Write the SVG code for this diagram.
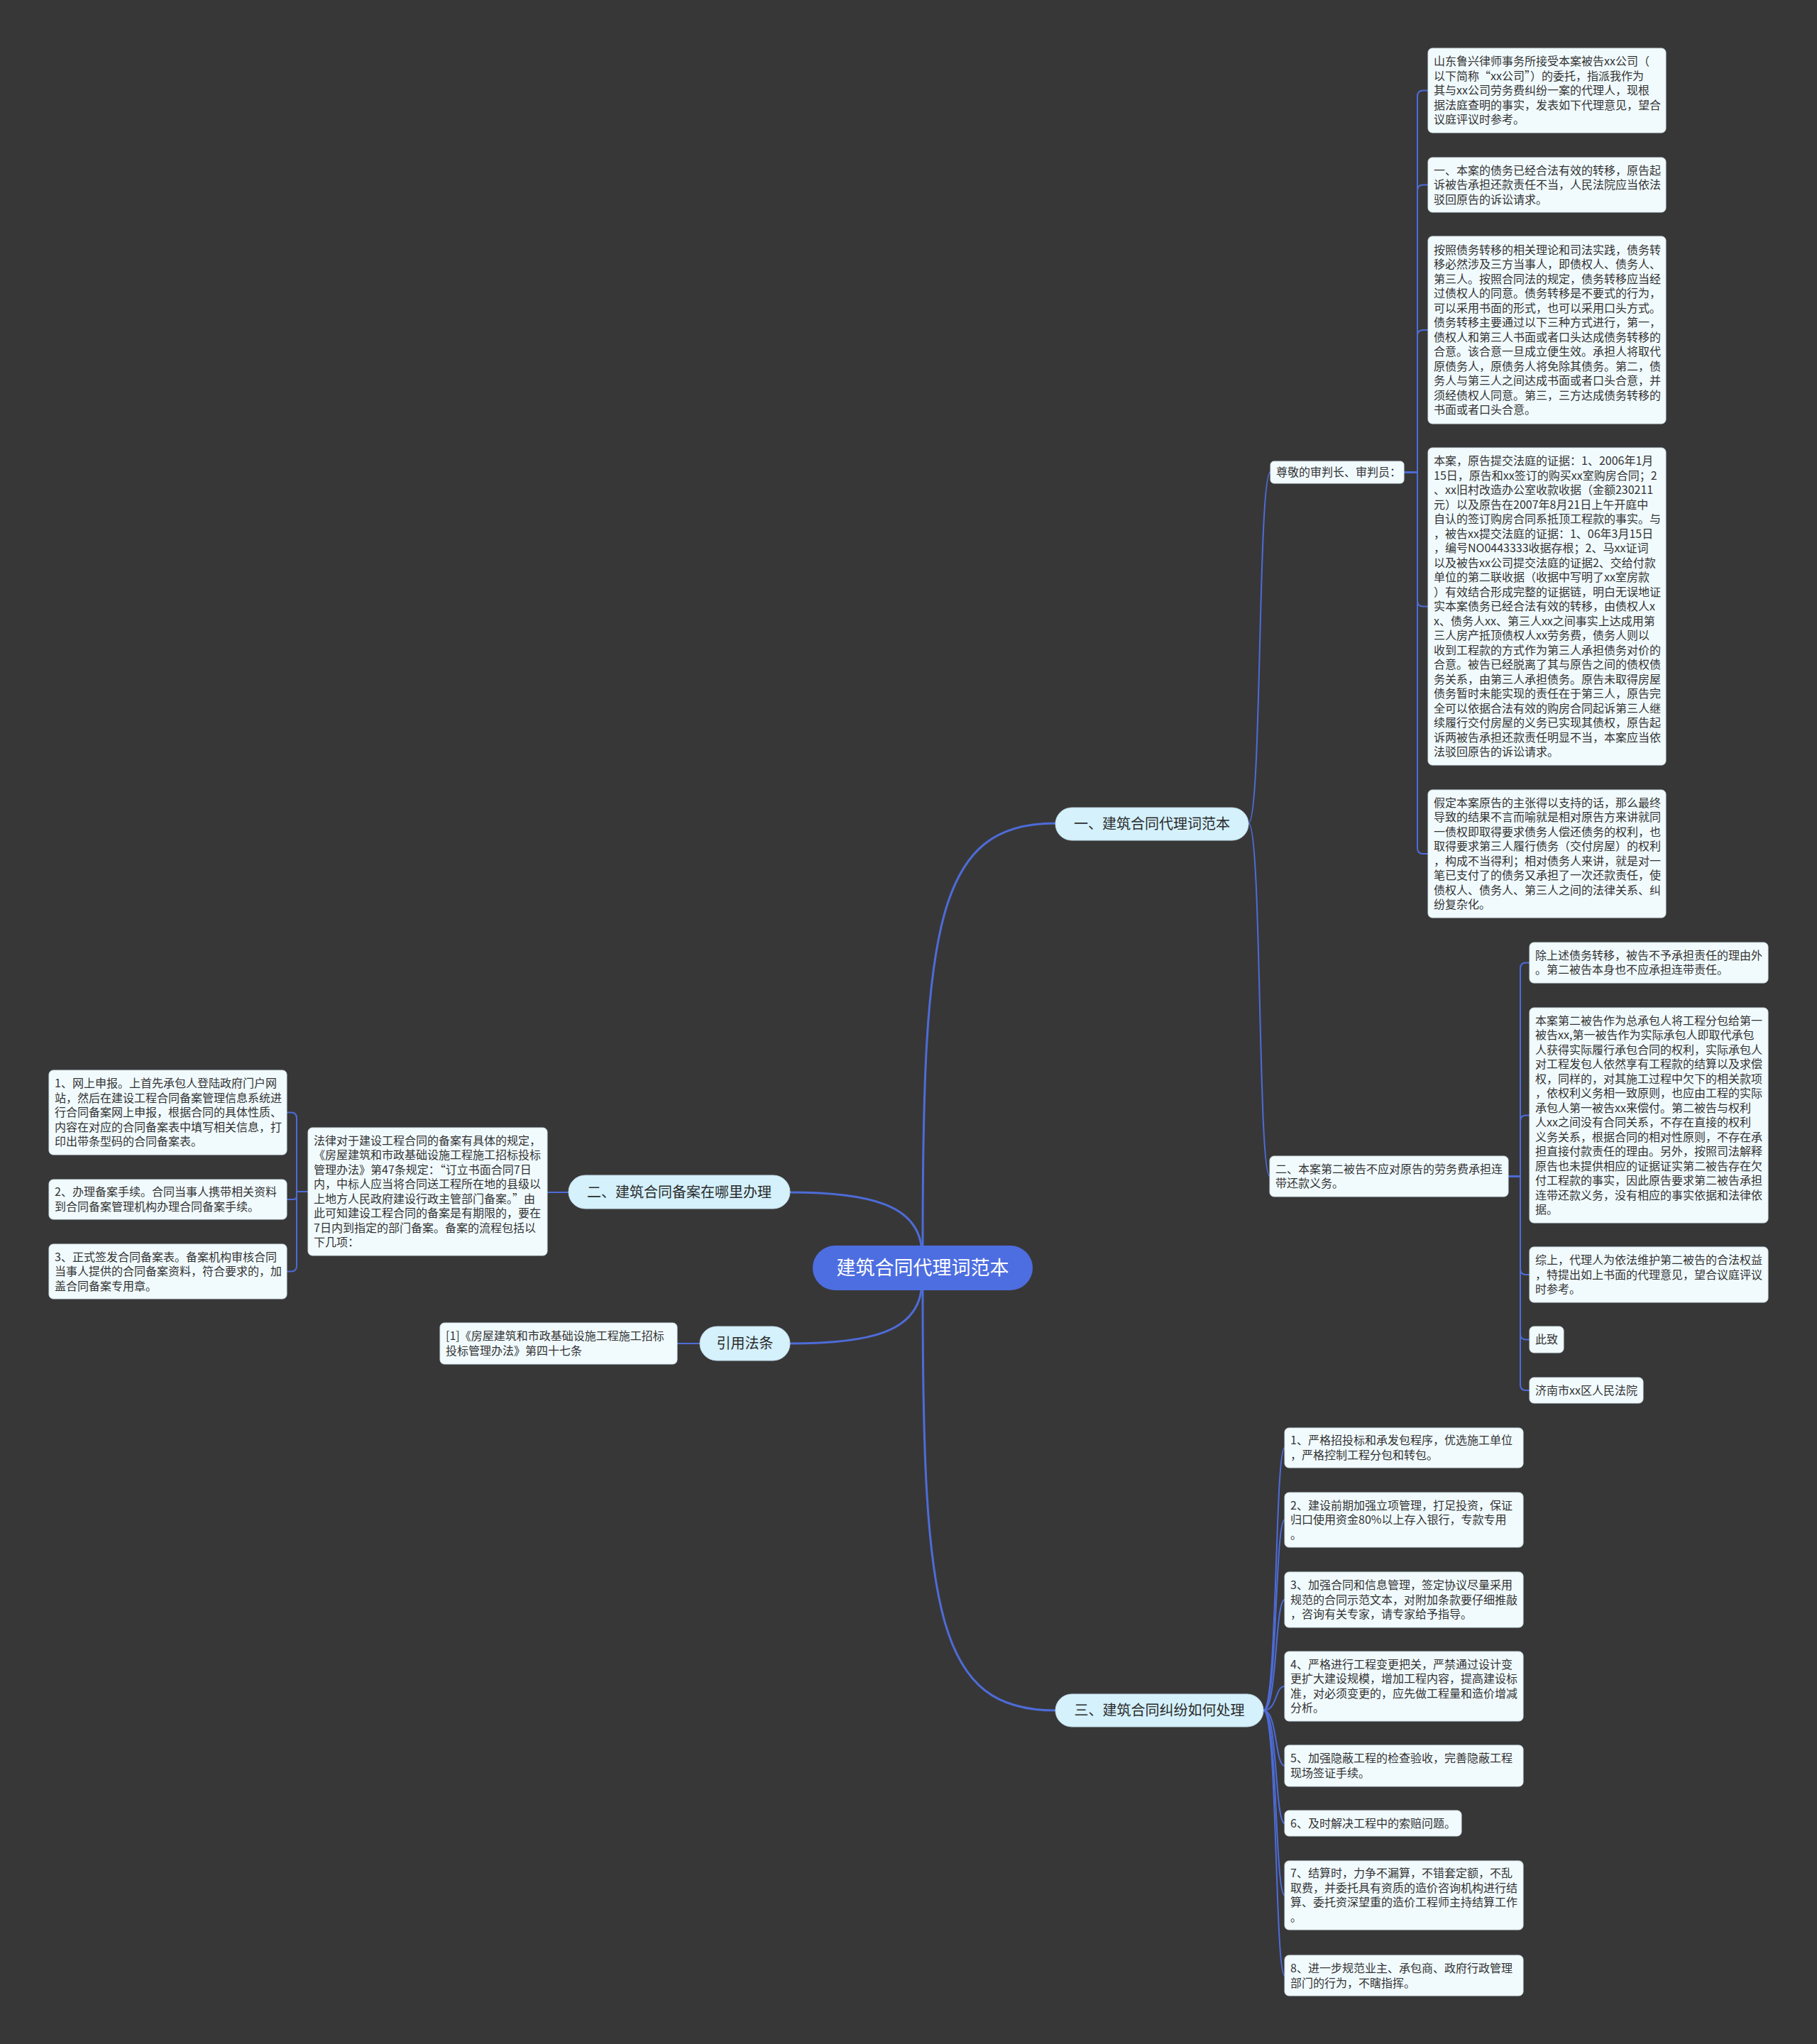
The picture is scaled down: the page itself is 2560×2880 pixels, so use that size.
<svg xmlns="http://www.w3.org/2000/svg" width="2560" height="2880" viewBox="0 0 2560 2880">
<style>
.bg{fill:#383738}
.leaf{fill:#f1fbfe;stroke:#d5e4ea;stroke-width:1}
.l2{fill:#d4f1fc;stroke:#c0dbe6;stroke-width:1}
.root{fill:#4d6ee0}
.t{font-family:"Noto Sans CJK SC","Noto Sans",sans-serif;font-size:16px;fill:#333}
.t2{font-family:"Noto Sans CJK SC","Noto Sans",sans-serif;font-size:20px;fill:#2b2b2b;text-anchor:middle}
.t1{font-family:"Noto Sans CJK SC","Noto Sans",sans-serif;font-size:27px;fill:#fff;text-anchor:middle}
.c{fill:none;stroke:#4d6cd8;stroke-width:2}
.cm{fill:none;stroke:#4d6cd8;stroke-width:3}
</style>
<rect class="bg" x="0" y="0" width="2560" height="2880"/>

<g id="connectors">
<path class="cm" d="M1300,1755 C1300,1300 1320,1160 1487,1160"/>
<path class="cm" d="M1300,1818 C1300,2273 1320,2410 1487,2410"/>
<path class="cm" d="M1298,1755 C1290,1700 1230,1680 1113,1680"/>
<path class="cm" d="M1298,1818 C1290,1875 1230,1893 1113,1893"/>
<path class="c" d="M801,1680 H771"/>
<path class="c" d="M986,1893 H954"/>
<path class="c" d="M1759,1160 C1778,1160 1772,665 1790,665"/>
<path class="c" d="M1759,1160 C1778,1160 1772,1657 1789,1657"/>
<path class="c" d="M1978,665.5 H1997 V135.5 Q1997,127.5 2005,127.5 H2012"/>
<path class="c" d="M1978,665.5 H1997 V268.5 Q1997,260.5 2005,260.5 H2012"/>
<path class="c" d="M1978,665.5 H1997 V473 Q1997,465 2005,465 H2012"/>
<path class="c" d="M1978,665.5 H1997 V846.5 Q1997,854.5 2005,854.5 H2012"/>
<path class="c" d="M1978,665.5 H1997 V1195 Q1997,1203 2005,1203 H2012"/>
<path class="c" d="M2125,1657.5 H2142 V1364.5 Q2142,1356.5 2150,1356.5 H2155"/>
<path class="c" d="M2125,1657.5 H2142 V1579.5 Q2142,1571.5 2150,1571.5 H2155"/>
<path class="c" d="M2125,1657.5 H2142 V1788 Q2142,1796 2150,1796 H2155"/>
<path class="c" d="M2125,1657.5 H2142 V1879.5 Q2142,1887.5 2150,1887.5 H2155"/>
<path class="c" d="M2125,1657.5 H2142 V1951 Q2142,1959 2150,1959 H2155"/>
<path class="c" d="M434,1679 H418 V1575.5 Q418,1567.5 410,1567.5 H404"/>
<path class="c" d="M434,1679 H418 V1685 Q418,1690 413,1690 H404"/>
<path class="c" d="M434,1679 H418 V1783.5 Q418,1791.5 410,1791.5 H404"/>
<path class="c" d="M1780,2410 C1800,2410 1796,2040 1810,2040"/>
<path class="c" d="M1780,2410 C1800,2410 1796,2141.5 1810,2141.5"/>
<path class="c" d="M1780,2410 C1800,2410 1796,2254 1810,2254"/>
<path class="c" d="M1780,2410 C1800,2410 1796,2376 1810,2376"/>
<path class="c" d="M1780,2410 C1800,2410 1796,2488 1810,2488"/>
<path class="c" d="M1780,2410 C1800,2410 1796,2569 1810,2569"/>
<path class="c" d="M1780,2410 C1800,2410 1796,2670.5 1810,2670.5"/>
<path class="c" d="M1780,2410 C1800,2410 1796,2783.5 1810,2783.5"/>
</g>

<g id="root">
<rect class="root" x="1145" y="1755" width="310" height="63" rx="31.5"/>
<text class="t1" x="1300" y="1796">建筑合同代理词范本</text>
</g>

<g id="n1">
<rect class="l2" x="1487" y="1138" width="272" height="46" rx="23"/>
<text class="t2" x="1623" y="1168">一、建筑合同代理词范本</text>
</g>
<g id="n2">
<rect class="l2" x="801" y="1656" width="312" height="47" rx="23.5"/>
<text class="t2" x="957" y="1687">二、建筑合同备案在哪里办理</text>
</g>
<g id="n3">
<rect class="l2" x="986" y="1869" width="127" height="48" rx="24"/>
<text class="t2" x="1049.5" y="1900">引用法条</text>
</g>
<g id="n4">
<rect class="l2" x="1487" y="2387" width="293" height="46" rx="23"/>
<text class="t2" x="1633.5" y="2417">三、建筑合同纠纷如何处理</text>
</g>

<g id="n1a">
<rect class="leaf" x="1790" y="650" width="188" height="31" rx="5"/>
<text class="t" x="1798" y="671">尊敬的审判长、审判员：</text>
</g>
<g id="n1a1">
<rect class="leaf" x="2012" y="68" width="335" height="119" rx="6"/>
<text class="t" x="2020" y="92"><tspan x="2020">山东鲁兴律师事务所接受本案被告xx公司（</tspan><tspan x="2020" dy="20.5">以下简称“xx公司”）的委托，指派我作为</tspan><tspan x="2020" dy="20.5">其与xx公司劳务费纠纷一案的代理人，现根</tspan><tspan x="2020" dy="20.5">据法庭查明的事实，发表如下代理意见，望合</tspan><tspan x="2020" dy="20.5">议庭评议时参考。</tspan></text>
</g>
<g id="n1a2">
<rect class="leaf" x="2012" y="222" width="335" height="77" rx="6"/>
<text class="t" x="2020" y="245.5"><tspan x="2020">一、本案的债务已经合法有效的转移，原告起</tspan><tspan x="2020" dy="20.5">诉被告承担还款责任不当，人民法院应当依法</tspan><tspan x="2020" dy="20.5">驳回原告的诉讼请求。</tspan></text>
</g>
<g id="n1a3">
<rect class="leaf" x="2012" y="333" width="335" height="264" rx="6"/>
<text class="t" x="2020" y="357.75"><tspan x="2020">按照债务转移的相关理论和司法实践，债务转</tspan><tspan x="2020" dy="20.5">移必然涉及三方当事人，即债权人、债务人、</tspan><tspan x="2020" dy="20.5">第三人。按照合同法的规定，债务转移应当经</tspan><tspan x="2020" dy="20.5">过债权人的同意。债务转移是不要式的行为，</tspan><tspan x="2020" dy="20.5">可以采用书面的形式，也可以采用口头方式。</tspan><tspan x="2020" dy="20.5">债务转移主要通过以下三种方式进行，第一，</tspan><tspan x="2020" dy="20.5">债权人和第三人书面或者口头达成债务转移的</tspan><tspan x="2020" dy="20.5">合意。该合意一旦成立便生效。承担人将取代</tspan><tspan x="2020" dy="20.5">原债务人，原债务人将免除其债务。第二，债</tspan><tspan x="2020" dy="20.5">务人与第三人之间达成书面或者口头合意，并</tspan><tspan x="2020" dy="20.5">须经债权人同意。第三，三方达成债务转移的</tspan><tspan x="2020" dy="20.5">书面或者口头合意。</tspan></text>
</g>
<g id="n1a4">
<rect class="leaf" x="2012" y="631" width="335" height="447" rx="6"/>
<text class="t" x="2020" y="655"><tspan x="2020">本案，原告提交法庭的证据：1、2006年1月</tspan><tspan x="2020" dy="20.5">15日，原告和xx签订的购买xx室购房合同；2</tspan><tspan x="2020" dy="20.5">、xx旧村改造办公室收款收据（金额230211</tspan><tspan x="2020" dy="20.5">元）以及原告在2007年8月21日上午开庭中</tspan><tspan x="2020" dy="20.5">自认的签订购房合同系抵顶工程款的事实。与</tspan><tspan x="2020" dy="20.5">，被告xx提交法庭的证据：1、06年3月15日</tspan><tspan x="2020" dy="20.5">，编号NO0443333收据存根；2、马xx证词</tspan><tspan x="2020" dy="20.5">以及被告xx公司提交法庭的证据2、交给付款</tspan><tspan x="2020" dy="20.5">单位的第二联收据（收据中写明了xx室房款</tspan><tspan x="2020" dy="20.5">）有效结合形成完整的证据链，明白无误地证</tspan><tspan x="2020" dy="20.5">实本案债务已经合法有效的转移，由债权人x</tspan><tspan x="2020" dy="20.5">x、债务人xx、第三人xx之间事实上达成用第</tspan><tspan x="2020" dy="20.5">三人房产抵顶债权人xx劳务费，债务人则以</tspan><tspan x="2020" dy="20.5">收到工程款的方式作为第三人承担债务对价的</tspan><tspan x="2020" dy="20.5">合意。被告已经脱离了其与原告之间的债权债</tspan><tspan x="2020" dy="20.5">务关系，由第三人承担债务。原告未取得房屋</tspan><tspan x="2020" dy="20.5">债务暂时未能实现的责任在于第三人，原告完</tspan><tspan x="2020" dy="20.5">全可以依据合法有效的购房合同起诉第三人继</tspan><tspan x="2020" dy="20.5">续履行交付房屋的义务已实现其债权，原告起</tspan><tspan x="2020" dy="20.5">诉两被告承担还款责任明显不当，本案应当依</tspan><tspan x="2020" dy="20.5">法驳回原告的诉讼请求。</tspan></text>
</g>
<g id="n1a5">
<rect class="leaf" x="2012" y="1113" width="335" height="180" rx="6"/>
<text class="t" x="2020" y="1136.75"><tspan x="2020">假定本案原告的主张得以支持的话，那么最终</tspan><tspan x="2020" dy="20.5">导致的结果不言而喻就是相对原告方来讲就同</tspan><tspan x="2020" dy="20.5">一债权即取得要求债务人偿还债务的权利，也</tspan><tspan x="2020" dy="20.5">取得要求第三人履行债务（交付房屋）的权利</tspan><tspan x="2020" dy="20.5">，构成不当得利；相对债务人来讲，就是对一</tspan><tspan x="2020" dy="20.5">笔已支付了的债务又承担了一次还款责任，使</tspan><tspan x="2020" dy="20.5">债权人、债务人、第三人之间的法律关系、纠</tspan><tspan x="2020" dy="20.5">纷复杂化。</tspan></text>
</g>

<g id="n1b">
<rect class="leaf" x="1789" y="1629" width="336" height="57" rx="6"/>
<text class="t" x="1797" y="1652.75"><tspan x="1797">二、本案第二被告不应对原告的劳务费承担连</tspan><tspan x="1797" dy="20.5">带还款义务。</tspan></text>
</g>
<g id="n1b1">
<rect class="leaf" x="2155" y="1328" width="336" height="57" rx="6"/>
<text class="t" x="2163" y="1351.75"><tspan x="2163">除上述债务转移，被告不予承担责任的理由外</tspan><tspan x="2163" dy="20.5">。第二被告本身也不应承担连带责任。</tspan></text>
</g>
<g id="n1b2">
<rect class="leaf" x="2155" y="1420" width="336" height="303" rx="6"/>
<text class="t" x="2163" y="1443.75"><tspan x="2163">本案第二被告作为总承包人将工程分包给第一</tspan><tspan x="2163" dy="20.5">被告xx,第一被告作为实际承包人即取代承包</tspan><tspan x="2163" dy="20.5">人获得实际履行承包合同的权利，实际承包人</tspan><tspan x="2163" dy="20.5">对工程发包人依然享有工程款的结算以及求偿</tspan><tspan x="2163" dy="20.5">权，同样的，对其施工过程中欠下的相关款项</tspan><tspan x="2163" dy="20.5">，依权利义务相一致原则，也应由工程的实际</tspan><tspan x="2163" dy="20.5">承包人第一被告xx来偿付。第二被告与权利</tspan><tspan x="2163" dy="20.5">人xx之间没有合同关系，不存在直接的权利</tspan><tspan x="2163" dy="20.5">义务关系，根据合同的相对性原则，不存在承</tspan><tspan x="2163" dy="20.5">担直接付款责任的理由。另外，按照司法解释</tspan><tspan x="2163" dy="20.5">原告也未提供相应的证据证实第二被告存在欠</tspan><tspan x="2163" dy="20.5">付工程款的事实，因此原告要求第二被告承担</tspan><tspan x="2163" dy="20.5">连带还款义务，没有相应的事实依据和法律依</tspan><tspan x="2163" dy="20.5">据。</tspan></text>
</g>
<g id="n1b3">
<rect class="leaf" x="2155" y="1757" width="336" height="78" rx="6"/>
<text class="t" x="2163" y="1781"><tspan x="2163">综上，代理人为依法维护第二被告的合法权益</tspan><tspan x="2163" dy="20.5">，特提出如上书面的代理意见，望合议庭评议</tspan><tspan x="2163" dy="20.5">时参考。</tspan></text>
</g>
<g id="n1b4">
<rect class="leaf" x="2155" y="1869" width="48" height="37" rx="6"/>
<text class="t" x="2163" y="1893">此致</text>
</g>
<g id="n1b5">
<rect class="leaf" x="2155" y="1941" width="160" height="36" rx="6"/>
<text class="t" x="2163" y="1964.5">济南市xx区人民法院</text>
</g>

<g id="n2a">
<rect class="leaf" x="434" y="1589" width="337" height="180" rx="6"/>
<text class="t" x="442" y="1612.75"><tspan x="442">法律对于建设工程合同的备案有具体的规定，</tspan><tspan x="442" dy="20.5">《房屋建筑和市政基础设施工程施工招标投标</tspan><tspan x="442" dy="20.5">管理办法》第47条规定：“订立书面合同7日</tspan><tspan x="442" dy="20.5">内，中标人应当将合同送工程所在地的县级以</tspan><tspan x="442" dy="20.5">上地方人民政府建设行政主管部门备案。”由</tspan><tspan x="442" dy="20.5">此可知建设工程合同的备案是有期限的，要在</tspan><tspan x="442" dy="20.5">7日内到指定的部门备案。备案的流程包括以</tspan><tspan x="442" dy="20.5">下几项：</tspan></text>
</g>
<g id="n2a1">
<rect class="leaf" x="69" y="1508" width="335" height="119" rx="6"/>
<text class="t" x="77" y="1532"><tspan x="77">1、网上申报。上首先承包人登陆政府门户网</tspan><tspan x="77" dy="20.5">站，然后在建设工程合同备案管理信息系统进</tspan><tspan x="77" dy="20.5">行合同备案网上申报，根据合同的具体性质、</tspan><tspan x="77" dy="20.5">内容在对应的合同备案表中填写相关信息，打</tspan><tspan x="77" dy="20.5">印出带条型码的合同备案表。</tspan></text>
</g>
<g id="n2a2">
<rect class="leaf" x="69" y="1662" width="335" height="56" rx="6"/>
<text class="t" x="77" y="1685.25"><tspan x="77">2、办理备案手续。合同当事人携带相关资料</tspan><tspan x="77" dy="20.5">到合同备案管理机构办理合同备案手续。</tspan></text>
</g>
<g id="n2a3">
<rect class="leaf" x="69" y="1753" width="335" height="77" rx="6"/>
<text class="t" x="77" y="1776.5"><tspan x="77">3、正式签发合同备案表。备案机构审核合同</tspan><tspan x="77" dy="20.5">当事人提供的合同备案资料，符合要求的，加</tspan><tspan x="77" dy="20.5">盖合同备案专用章。</tspan></text>
</g>

<g id="n3a">
<rect class="leaf" x="620" y="1864" width="334" height="58" rx="6"/>
<text class="t" x="628" y="1888.25"><tspan x="628">[1]《房屋建筑和市政基础设施工程施工招标</tspan><tspan x="628" dy="20.5">投标管理办法》第四十七条</tspan></text>
</g>

<g id="n4a1">
<rect class="leaf" x="1810" y="2012" width="336" height="56" rx="6"/>
<text class="t" x="1818" y="2035.25"><tspan x="1818">1、严格招投标和承发包程序，优选施工单位</tspan><tspan x="1818" dy="20.5">，严格控制工程分包和转包。</tspan></text>
</g>
<g id="n4a2">
<rect class="leaf" x="1810" y="2103" width="336" height="77" rx="6"/>
<text class="t" x="1818" y="2126.5"><tspan x="1818">2、建设前期加强立项管理，打足投资，保证</tspan><tspan x="1818" dy="20.5">归口使用资金80%以上存入银行，专款专用</tspan><tspan x="1818" dy="20.5">。</tspan></text>
</g>
<g id="n4a3">
<rect class="leaf" x="1810" y="2215" width="336" height="78" rx="6"/>
<text class="t" x="1818" y="2239"><tspan x="1818">3、加强合同和信息管理，签定协议尽量采用</tspan><tspan x="1818" dy="20.5">规范的合同示范文本，对附加条款要仔细推敲</tspan><tspan x="1818" dy="20.5">，咨询有关专家，请专家给予指导。</tspan></text>
</g>
<g id="n4a4">
<rect class="leaf" x="1810" y="2327" width="336" height="98" rx="6"/>
<text class="t" x="1818" y="2350.75"><tspan x="1818">4、严格进行工程变更把关，严禁通过设计变</tspan><tspan x="1818" dy="20.5">更扩大建设规模，增加工程内容，提高建设标</tspan><tspan x="1818" dy="20.5">准，对必须变更的，应先做工程量和造价增减</tspan><tspan x="1818" dy="20.5">分析。</tspan></text>
</g>
<g id="n4a5">
<rect class="leaf" x="1810" y="2459" width="336" height="58" rx="6"/>
<text class="t" x="1818" y="2483.25"><tspan x="1818">5、加强隐蔽工程的检查验收，完善隐蔽工程</tspan><tspan x="1818" dy="20.5">现场签证手续。</tspan></text>
</g>
<g id="n4a6">
<rect class="leaf" x="1810" y="2551" width="249" height="36" rx="6"/>
<text class="t" x="1818" y="2574.5">6、及时解决工程中的索赔问题。</text>
</g>
<g id="n4a7">
<rect class="leaf" x="1810" y="2622" width="336" height="97" rx="6"/>
<text class="t" x="1818" y="2645.25"><tspan x="1818">7、结算时，力争不漏算，不错套定额，不乱</tspan><tspan x="1818" dy="20.5">取费，并委托具有资质的造价咨询机构进行结</tspan><tspan x="1818" dy="20.5">算、委托资深望重的造价工程师主持结算工作</tspan><tspan x="1818" dy="20.5">。</tspan></text>
</g>
<g id="n4a8">
<rect class="leaf" x="1810" y="2755" width="336" height="57" rx="6"/>
<text class="t" x="1818" y="2779"><tspan x="1818">8、进一步规范业主、承包商、政府行政管理</tspan><tspan x="1818" dy="20.5">部门的行为，不瞎指挥。</tspan></text>
</g>
</svg>
